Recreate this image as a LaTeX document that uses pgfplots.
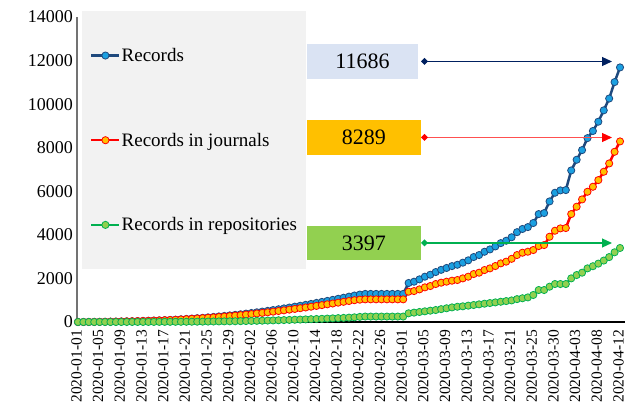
\documentclass[border=0pt]{standalone}
\usepackage{fontspec}
\setmainfont{Liberation Serif}
\usepackage{pgfplots}
\usepackage{pgfplotstable}
\pgfplotsset{compat=1.18}
\usetikzlibrary{arrows.meta}

\definecolor{bline}{RGB}{31,73,125}
\definecolor{bfill}{RGB}{27,160,225}
\definecolor{rline}{RGB}{255,0,0}
\definecolor{rfill}{RGB}{255,192,0}
\definecolor{gline}{RGB}{0,176,80}
\definecolor{gfill}{RGB}{146,208,80}
\definecolor{legbg}{RGB}{242,242,242}
\definecolor{boxb}{RGB}{218,227,243}
\definecolor{navy}{RGB}{0,32,96}
\definecolor{arrr}{RGB}{255,80,80}

\pgfplotstableread{
i R G B
0 0 0 0
1 1 0 1
2 3 0 3
3 5 0 5
4 8 0 8
5 11 0 11
6 15 0 15
7 19 0 19
8 24 1 25
9 29 1 30
10 35 2 37
11 41 2 43
12 48 3 51
13 55 3 58
14 63 4 67
15 71 5 76
16 80 6 86
17 90 7 97
18 100 8 108
19 115 9 124
20 130 10 140
21 145 12 157
22 160 14 174
23 176 16 192
24 193 19 212
25 211 22 233
26 230 25 255
27 250 28 278
28 271 31 302
29 293 34 327
30 316 38 354
31 340 43 383
32 365 48 413
33 391 54 445
34 418 60 478
35 446 66 512
36 475 73 548
37 505 80 585
38 536 88 624
39 568 96 664
40 600 104 704
41 633 112 745
42 667 120 787
43 702 129 831
44 738 138 876
45 775 147 922
46 812 157 969
47 850 167 1017
48 888 178 1066
49 926 189 1115
50 964 200 1164
51 1000 215 1215
52 1025 235 1260
53 1040 250 1290
54 1040 250 1290
55 1040 250 1290
56 1040 250 1290
57 1040 250 1290
58 1040 250 1290
59 1040 250 1290
60 1040 250 1290
61 1391 400 1791
62 1420 430 1850
63 1498 460 1958
64 1590 490 2080
65 1651 520 2171
66 1743 550 2293
67 1804 590 2394
68 1850 630 2480
69 1896 670 2566
70 1927 700 2627
71 2003 720 2723
72 2080 750 2830
73 2202 780 2982
74 2263 810 3073
75 2385 840 3225
76 2462 870 3332
77 2569 900 3469
78 2691 930 3621
79 2770 960 3730
80 2900 990 3890
81 3073 1050 4123
82 3180 1090 4270
83 3226 1130 4356
84 3303 1240 4543
85 3486 1468 4954
86 3532 1468 5000
87 3914 1621 5535
88 4190 1743 5933
89 4297 1743 6040
90 4313 1743 6056
91 4954 2003 6957
92 5291 2156 7447
93 5627 2263 7890
94 5979 2462 8441
95 6208 2560 8768
96 6514 2680 9194
97 6896 2820 9716
98 7278 2980 10258
99 7813 3200 11013
100 8289 3397 11686
}\datatable

\begin{document}
\begin{tikzpicture}
\useasboundingbox (-77pt,-85pt) rectangle (548pt,322pt);
\begin{axis}[
  scale only axis,
  width=548pt, height=305pt,
  xmin=-0.18, xmax=100.92,
  ymin=0, ymax=14000,
  clip=false,
  axis lines*=left,
  x axis line style={black, line width=1.2pt},
  y axis line style={black!55, line width=1.2pt},
  major tick length=0pt,
  scaled y ticks=false,
  ytick={0,2000,...,14000},
  yticklabel style={/pgf/number format/1000 sep={}, /pgf/number format/assume math mode=true, font=\fontsize{18}{18}\selectfont, inner sep=0pt},
  yticklabel shift=4pt,
  xtick={0,4,...,100},
  xticklabels={2020-01-01,2020-01-05,2020-01-09,2020-01-13,2020-01-17,2020-01-21,2020-01-25,2020-01-29,2020-02-02,2020-02-06,2020-02-10,2020-02-14,2020-02-18,2020-02-22,2020-02-26,2020-03-01,2020-03-05,2020-03-09,2020-03-13,2020-03-17,2020-03-21,2020-03-25,2020-03-30,2020-04-03,2020-04-08,2020-04-12},
  xticklabel style={xshift=-1.5pt, rotate=90, anchor=east, inner sep=0pt, font=\fontsize{15.5}{16}\selectfont},
  xticklabel shift=8pt,
  legend image code/.code={\draw[mark repeat=2,mark phase=2,#1] plot coordinates {(0pt,0pt) (14pt,0pt) (28pt,0pt)};},
  legend cell align=left,
  legend style={at={(0.00912,1.0197)}, anchor=north west, fill=legbg, draw=none,
    inner xsep=8pt, inner ysep=36pt, row sep=68pt,
    font=\fontsize{19}{22}\selectfont,
    nodes={inner sep=1pt},
    /tikz/every even column/.append style={column sep=0pt}},
]
\addplot[bline, line width=2.5pt, mark=*, mark size=3.6pt, mark options={fill=bfill, draw=bline, line width=0.8pt}] table[x=i, y=B] {\datatable};
\addlegendentry{Records}
\addplot[rline, line width=2.5pt, mark=*, mark size=3.6pt, mark options={fill=rfill, draw=rline, line width=0.8pt}] table[x=i, y=R] {\datatable};
\addlegendentry{Records in journals}
\addplot[gline, line width=2.5pt, mark=*, mark size=3.6pt, mark options={fill=gfill, draw=gline, line width=0.8pt}] table[x=i, y=G] {\datatable};
\addlegendentry{Records in repositories}
\end{axis}
\node[fill=boxb, minimum width=111pt, minimum height=35pt, inner sep=0pt, font=\fontsize{22}{22}\selectfont] at (285.5pt,260.5pt) {11686};
\node[fill=rfill, minimum width=114pt, minimum height=35pt, inner sep=0pt, font=\fontsize{22}{22}\selectfont] at (287pt,184.5pt) {8289};
\node[fill=gfill, minimum width=114pt, minimum height=34pt, inner sep=0pt, font=\fontsize{22}{22}\selectfont] at (287pt,79pt) {3397};
\draw[navy, line width=1.2pt, {Diamond[length=7pt,width=7pt]}-{Triangle[length=10pt,width=9pt]}] (344pt,260.5pt) -- (535pt,260.5pt);
\draw[arrr, line width=1.2pt, {Diamond[length=7pt,width=7pt,color=rline]}-{Triangle[length=10pt,width=9pt,color=rline]}] (344pt,184.5pt) -- (535pt,184.5pt);
\draw[gline, line width=1.2pt, {Diamond[length=7pt,width=7pt]}-{Triangle[length=10pt,width=9pt]}] (344pt,79pt) -- (535pt,79pt);
\end{tikzpicture}
\end{document}
